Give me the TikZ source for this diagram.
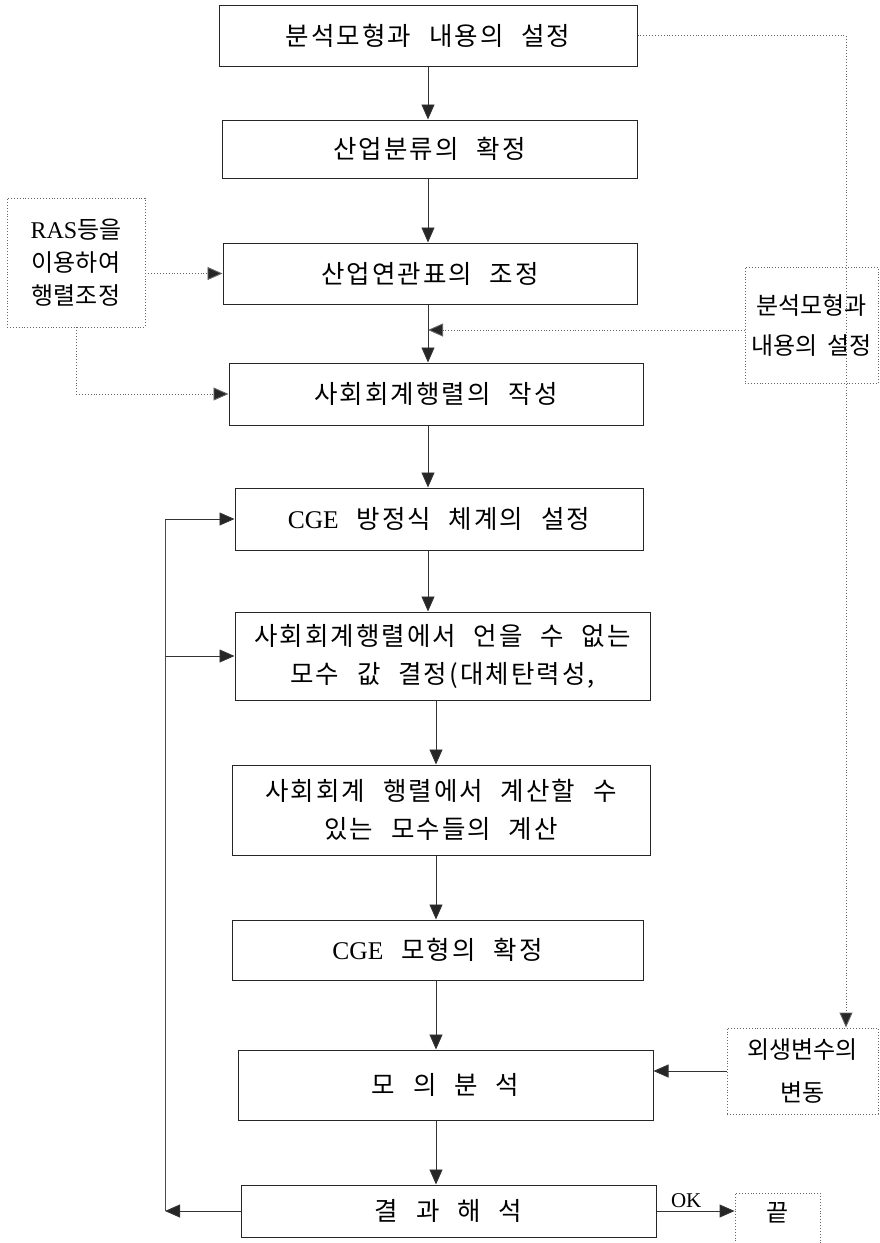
\documentclass[tikz,border=0pt]{standalone}
\usepackage{fontspec}
\usetikzlibrary{arrows.meta}
\newfontfamily\kr[WordSpace=2.3,LetterSpace=8]{Noto Sans CJK KR}
\newfontfamily\krside[WordSpace=1.8]{Noto Sans CJK KR}
\newfontfamily\lat{Liberation Serif}
\newcommand{\gap}{\hspace{0.7em}}
\tikzset{
  box/.style={draw=black!85, line width=1pt, inner sep=0pt, align=center,
    font=\kr\fontsize{25.5}{38}\selectfont},
  dbox/.style={draw=black!60, dotted, line width=0.9pt, inner sep=0pt, align=center,
    font=\krside\fontsize{24}{40}\selectfont},
  tip/.style={-{Triangle[length=15pt,width=13pt,fill=black!85]}},
  arr/.style={draw=black!80, line width=0.9pt, tip},
  dotarr/.style={draw=black!60, dotted, line width=0.9pt, tip},
  link/.style={draw=black!70, line width=0.9pt}
}
\begin{document}
\begin{tikzpicture}[x=1pt, y=-1pt]
\clip (0,0) rectangle (879,1243);
\fill[white] (0,0) rectangle (879,1243);

% main column
\node[box, minimum width=418pt, minimum height=61pt] (b1) at (428,35.5) {분석모형과 내용의 설정};
\node[box, minimum width=415pt, minimum height=58pt] (b2) at (429.5,149) {산업분류의 확정};
\node[box, minimum width=414pt, minimum height=61pt] (b3) at (430,273.5) {산업연관표의 조정};
\node[box, minimum width=414pt, minimum height=62pt] (b4) at (436,394) {사회회계행렬의 작성};
\node[box, minimum width=408pt, minimum height=62pt] (b5) at (439,519) {{\lat CGE} 방정식 체계의 설정};
\node[box, minimum width=415pt, minimum height=88pt] (b6) at (442.5,656) {사회회계행렬에서 언을 수 없는\\모수 값 결정(대체탄력성,};
\node[box, minimum width=418pt, minimum height=90pt] (b7) at (441,810) {사회회계 행렬에서 계산할 수\\있는 모수들의 계산};
\node[box, minimum width=411pt, minimum height=60pt] (b8) at (437.5,950) {{\lat CGE} 모형의 확정};
\node[box, minimum width=415pt, minimum height=70pt] (b9) at (445.5,1085) {모\gap 의\gap 분\gap 석};
\node[box, minimum width=415pt, minimum height=52pt] (b10) at (448.5,1211) {결\gap 과\gap 해\gap 석};

% side boxes
\node[dbox, minimum width=138pt, minimum height=129pt, font=\krside\fontsize{24}{33}\selectfont] (ras) at (76,262.5) {{\lat RAS}등을\\이용하여\\행렬조정};
\node[dbox, minimum width=133pt, minimum height=116pt] (anl) at (811.5,325) {분석모형과\\내용의 설정};
\node[dbox, minimum width=151pt, minimum height=86pt, font=\krside\fontsize{24}{43}\selectfont] (exo) at (802.5,1071) {외생변수의\\변동};
\node[dbox, minimum width=85pt, minimum height=90pt] (fin) at (777.5,1238) {};
\node[font=\krside\fontsize{24}{26}\selectfont, inner sep=0pt] (finlbl) at (777.5,1213) {끝};

% guide columns
\coordinate (colA) at (428,0);
\coordinate (colB) at (436,0);
\coordinate (fb) at (165,0);
\coordinate (ex) at (846,0);

% main flow
\draw[arr] (b1.south -| colA) -- (b2.north -| colA);
\draw[arr] (b2.south -| colA) -- (b3.north -| colA);
\draw[arr] (b3.south -| colA) -- (b4.north -| colA);
\draw[arr] (b4.south -| colA) -- (b5.north -| colA);
\draw[arr] (b5.south -| colA) -- (b6.north -| colA);
\draw[arr] (b6.south -| colB) -- (b7.north -| colB);
\draw[arr] (b7.south -| colB) -- (b8.north -| colB);
\draw[arr] (b8.south -| colB) -- (b9.north -| colB);
\draw[arr] (b9.south -| colB) -- (b10.north -| colB);

% dotted inputs
\draw[dotarr] (b3.west -| ras.east) -- (b3.west);
\draw[dotarr] (ras.south) -- (ras.south |- b4.west) -- (b4.west);
\draw[dotarr] ([yshift=-5pt]anl.west) -- ([yshift=-5pt]anl.west -| colA);
\draw[dotarr] (b1.east) -- (b1.east -| ex) -- (exo.north -| ex);
\draw[arr] (exo.west) -- (exo.west -| b9.east);

% feedback loop
\draw[arr] (b10.west) -- (b10.west -| fb);
\draw[link] (b10.west -| fb) -- (b5.west -| fb);
\draw[arr] (b5.west -| fb) -- (b5.west);
\draw[arr] (b6.west -| fb) -- (b6.west);

% exit
\draw[arr] (b10.east) -- (b10.east -| fin.west)
  node[pos=0.38, above, font=\lat\fontsize{21}{24}\selectfont, inner sep=3pt] {OK};
\end{tikzpicture}
\end{document}
